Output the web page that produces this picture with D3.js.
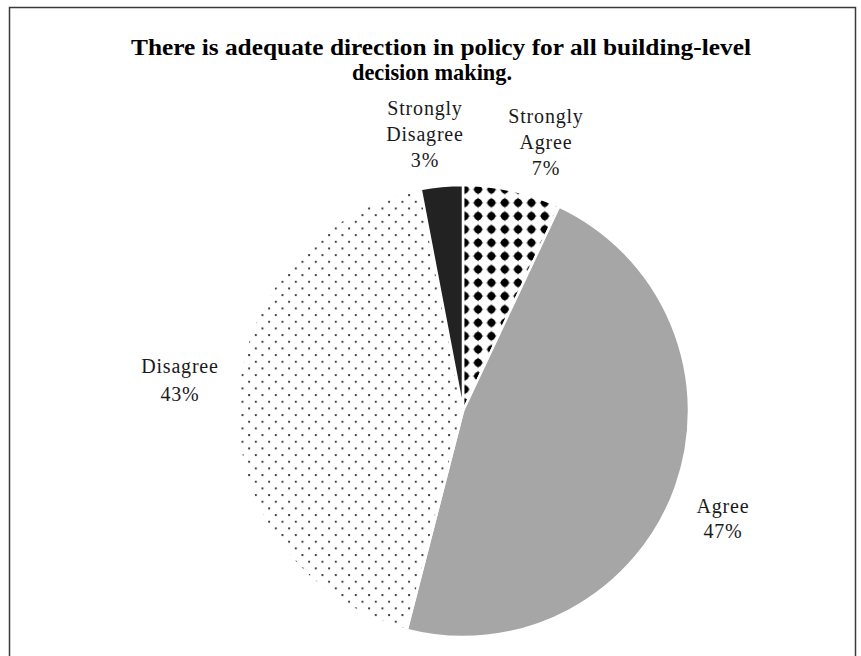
<!DOCTYPE html>
<html lang="en">
<head>
<meta charset="UTF-8">
<title>Building-level decision making</title>
<script src="https://d3js.org/d3.v7.min.js"></script>
<style>
    body { margin: 0; background: #fff; }
    svg { display: block; }
    .title { font-family: "Liberation Serif", "Times New Roman", serif; font-weight: bold; font-size: 23px; fill: #000; }
    .label { font-family: "Liberation Serif", "Times New Roman", serif; font-size: 20px; fill: #1a1a1a; letter-spacing: 0.8px; }
</style>
</head>
<body>
<div id="chart"></div>
<script>
// Chart data
const categories = ["Strongly Agree", "Agree", "Disagree", "Strongly Disagree"];
const percents = [7, 47, 43, 3];
const labelLines = [["Strongly", "Agree", "7%"], ["Agree", "47%"], ["Disagree", "43%"], ["Strongly", "Disagree", "3%"]];
const titleLines = ["There is adequate direction in policy for all building-level", "decision making."];

const W = 861, H = 656;
const cx = 463, cy = 411, radius = 226;

const svg = d3.select("#chart").append("svg")
    .attr("width", W)
    .attr("height", H);

const defs = svg.append("defs");

// diamond pattern (Strongly Agree)
const dp = defs.append("pattern")
    .attr("id", "diamonds")
    .attr("patternUnits", "userSpaceOnUse")
    .attr("x", 468.3 - 6.67).attr("y", 205 - 6.67)
    .attr("width", 13.33).attr("height", 13.33);
dp.append("rect").attr("width", 13.33).attr("height", 13.33).attr("fill", "#fff");
dp.append("path")
    .attr("d", "M6.67,1.2 Q7.9,5.4 12.1,6.67 Q7.9,7.9 6.67,12.1 Q5.4,7.9 1.2,6.67 Q5.4,5.4 6.67,1.2 Z")
    .attr("fill", "#000");
dp.append("circle").attr("cx", 6.67).attr("cy", 6.67).attr("r", 4).attr("fill", "#000");

// dotted pattern (Disagree)
const sp = defs.append("pattern")
    .attr("id", "dots")
    .attr("patternUnits", "userSpaceOnUse")
    .attr("x", 386 - 1).attr("y", 384 - 1)
    .attr("width", 13.33).attr("height", 13.33);
sp.append("rect").attr("width", 13.33).attr("height", 13.33).attr("fill", "#fff");
sp.append("rect").attr("x", 0).attr("y", 0).attr("width", 2).attr("height", 2).attr("fill", "#444");
sp.append("rect").attr("x", 6.67).attr("y", 6.67).attr("width", 2).attr("height", 2).attr("fill", "#444");

const fills = ["url(#diamonds)", "#a6a6a6", "url(#dots)", "#222222"];
const color = d3.scaleOrdinal().domain(categories).range(fills);

// frame
svg.append("path")
    .attr("d", `M9.5,${H} V7.5 H855.5 V${H}`)
    .attr("fill", "none")
    .attr("stroke", "#3a3a3a")
    .attr("stroke-width", 1.5);

// title
const title = svg.append("text").attr("class", "title").attr("text-anchor", "middle");
title.append("tspan").attr("x", 441).attr("y", 55).attr("textLength", 620).attr("lengthAdjust", "spacingAndGlyphs").text(titleLines[0]);
title.append("tspan").attr("x", 432).attr("y", 80).attr("textLength", 160).attr("lengthAdjust", "spacingAndGlyphs").text(titleLines[1]);

const data = categories.map((c, i) => ({ category: c, value: percents[i], lines: labelLines[i] }));

const pie = d3.pie().sort(null).value(d => d.value);
const arc = d3.arc().innerRadius(0).outerRadius(radius);

const g = svg.append("g").attr("transform", `translate(${cx},${cy})`);

g.selectAll("path.slice")
    .data(pie(data))
    .join("path")
    .attr("class", "slice")
    .attr("d", arc)
    .attr("fill", d => color(d.data.category))
    .attr("stroke", "#fff")
    .attr("stroke-width", 2.5)
    .attr("stroke-linejoin", "round");

// labels sit outside the pie, as in the original
const labelPos = {
    "Strongly Agree": { x: 546, y: 123, step: 26 },
    "Agree": { x: 723, y: 513, step: 25 },
    "Disagree": { x: 180, y: 373, step: 28 },
    "Strongly Disagree": { x: 425, y: 115, step: 26 }
};

data.forEach(d => {
    const p = labelPos[d.category];
    const t = svg.append("text").attr("class", "label").attr("text-anchor", "middle");
    d.lines.forEach((ln, i) => {
        t.append("tspan").attr("x", p.x).attr("y", p.y + i * p.step).text(ln);
    });
});
</script>
</body>
</html>
